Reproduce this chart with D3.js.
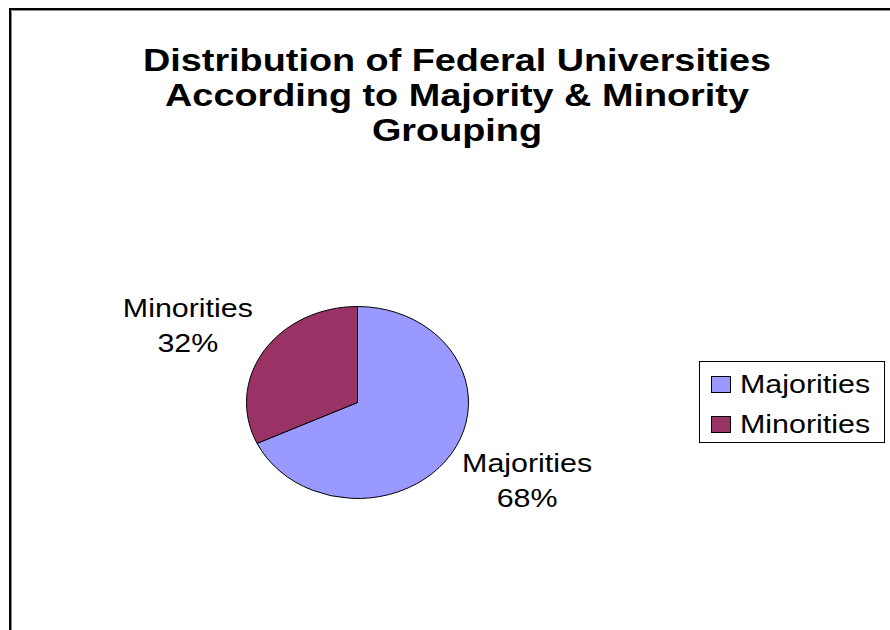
<!DOCTYPE html>
<html>
<head>
<meta charset="utf-8">
<script src="https://cdn.jsdelivr.net/npm/d3@7/dist/d3.min.js"></script>
<style>
  html, body { margin: 0; padding: 0; background: #fff; }
  svg { display: block; }
  text { font-family: "Liberation Sans", Arial, sans-serif; fill: #000; }
</style>
</head>
<body>
<script>
// Chart data
const categories = ["Majorities", "Minorities"];
const values = [68, 32];
const colors = ["#9999FF", "#993366"];
const titleLines = [
  "Distribution of Federal Universities",
  "According to Majority & Minority",
  "Grouping"
];

const W = 890, H = 630;
const svg = d3.select("body").append("svg")
  .attr("width", W).attr("height", H);

// Chart area frame (runs off the right and bottom edges)
svg.append("rect")
  .attr("x", 10).attr("y", 9)
  .attr("width", W + 20).attr("height", H + 20)
  .attr("fill", "#fff").attr("stroke", "#000").attr("stroke-width", 2);
svg.append("path")
  .attr("d", `M11.5,${H + 5} V10.5 H${W + 5}`)
  .attr("fill", "none").attr("stroke", "#888").attr("stroke-width", 1);

// Text is drawn slightly widened horizontally
function stretchedText(sel, x, y, str, opts) {
  const g = sel.append("g").attr("transform", `translate(${x},${y})`);
  return g.append("text")
    .attr("transform", `scale(${opts.sx},1)`)
    .attr("text-anchor", opts.anchor || "middle")
    .attr("font-size", opts.size)
    .attr("font-weight", opts.weight || "normal")
    .text(str);
}

// Title
const titleX = 457, titleY0 = 71, titleStep = 35;
titleLines.forEach((t, i) => {
  stretchedText(svg, titleX, titleY0 + i * titleStep, t,
    { sx: 1.22, size: 31, weight: "bold" });
});

// Pie (elliptical)
const cx = 357.5, cy = 402.5, rx = 111, ry = 96;
const pie = d3.pie().sort(null).value(d => d.value);
const arcs = pie(categories.map((c, i) => ({ name: c, value: values[i], color: colors[i] })));
const arc = d3.arc().innerRadius(0).outerRadius(rx);

const pieG = svg.append("g")
  .attr("transform", `translate(${cx},${cy}) scale(1,${ry / rx})`);
pieG.selectAll("path")
  .data(arcs)
  .join("path")
  .attr("d", arc)
  .attr("fill", d => d.data.color)
  .attr("stroke", "#000")
  .attr("stroke-width", 1)
  .attr("vector-effect", "non-scaling-stroke")
  .attr("stroke-linejoin", "round");

// Data labels outside each slice
const total = d3.sum(values);
arcs.forEach(d => {
  const a = (d.startAngle + d.endAngle) / 2;
  const mx = cx + Math.sin(a) * rx * 1.81;
  const my = cy - Math.cos(a) * ry * 1.5;
  const pct = Math.round(d.data.value / total * 100) + "%";
  stretchedText(svg, mx, my - 8, d.data.name, { sx: 1.17, size: 26 });
  stretchedText(svg, mx, my + 27, pct, { sx: 1.17, size: 26 });
});

// Legend
const lg = svg.append("g");
lg.append("rect")
  .attr("x", 699.5).attr("y", 361.5)
  .attr("width", 185).attr("height", 81)
  .attr("fill", "#fff").attr("stroke", "#000").attr("stroke-width", 1);
const legendY = d3.scalePoint().domain(categories).range([385, 425]);
categories.forEach((c, i) => {
  const y = legendY(c);
  lg.append("rect")
    .attr("x", 711.5).attr("y", y - 8.5)
    .attr("width", 19).attr("height", 16)
    .attr("fill", colors[i]).attr("stroke", "#000").attr("stroke-width", 1);
  stretchedText(lg, 740, y + 8, c, { sx: 1.17, size: 26, anchor: "start" });
});
</script>
</body>
</html>
